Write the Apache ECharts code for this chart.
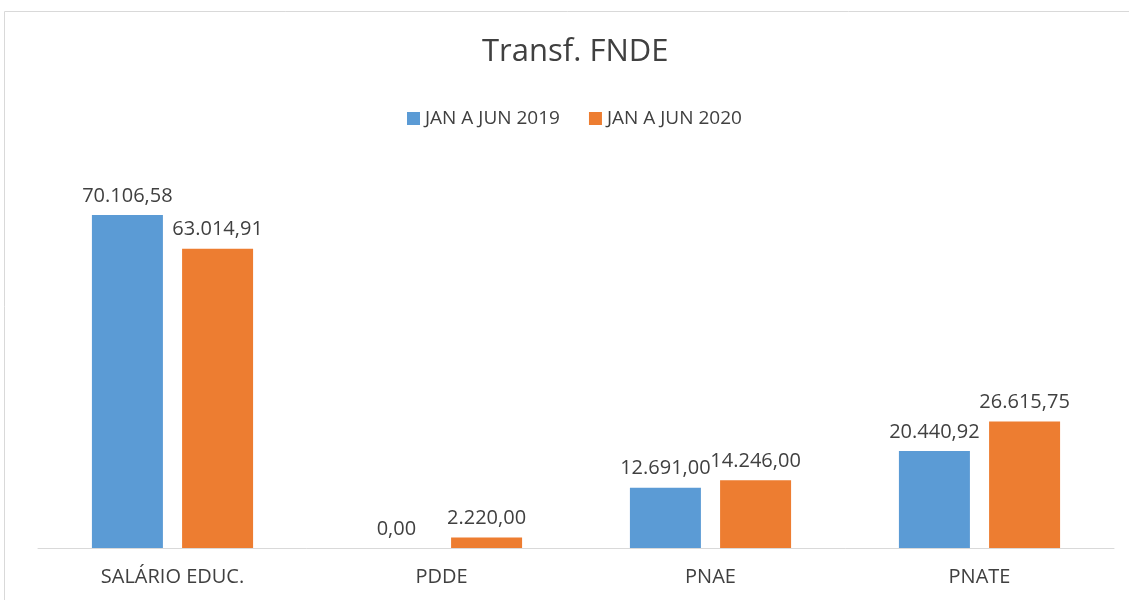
<!DOCTYPE html>
<html>
<head>
<meta charset="utf-8">
<script src="https://cdn.jsdelivr.net/npm/echarts@6/dist/echarts.min.js"></script>
<style>
  html, body { margin: 0; padding: 0; background: #fff; }
  #chart { width: 1129px; height: 600px; }
</style>
</head>
<body>
<div id="chart"></div>
<script>
var categories = ['SALÁRIO EDUC.', 'PDDE', 'PNAE', 'PNATE'];
var seriesNames = ['JAN A JUN 2019', 'JAN A JUN 2020'];
var values2019 = [70106.58, 0, 12691.00, 20440.92];
var values2020 = [63014.91, 2220.00, 14246.00, 26615.75];

function fmtBR(v) {
    var parts = v.toFixed(2).split('.');
    parts[0] = parts[0].replace(/\B(?=(\d{3})+(?!\d))/g, '.');
    return parts[0] + ',' + parts[1];
}

var myChart = echarts.init(document.getElementById('chart'));
var textColor = '#404040';
var font = 'Open Sans';

var labelOpt = {
    show: true,
    position: 'top',
    distance: 9,
    color: textColor,
    fontFamily: font,
    fontSize: 20,
    formatter: function (p) { return fmtBR(p.value); }
};

var option = {
    animation: false,
    textStyle: { fontFamily: font },
    // chart area border
    graphic: [{
        type: 'rect',
        shape: { x: 4.5, y: 11.5, width: 1200, height: 700 },
        style: { fill: 'none', stroke: '#d9d9d9', lineWidth: 1 },
        silent: true
    }],
    title: {
        text: 'Transf. FNDE',
        left: 482,
        top: 37,
        padding: 0,
        textStyle: { color: textColor, fontFamily: font, fontSize: 31, fontWeight: 'normal' }
    },
    legend: {
        data: seriesNames,
        top: 104,
        left: 402,
        itemWidth: 13,
        itemHeight: 13,
        itemGap: 29,
        icon: 'rect',
        textStyle: { color: textColor, fontFamily: font, fontSize: 19 }
    },
    grid: { left: 38, right: 15, top: 168, bottom: 52 },
    xAxis: {
        type: 'category',
        data: categories,
        axisLine: { lineStyle: { color: '#d9d9d9', width: 1 } },
        axisTick: { show: false },
        axisLabel: { color: textColor, fontFamily: font, fontSize: 20, margin: 19 }
    },
    yAxis: {
        type: 'value',
        min: 0,
        max: 80000,
        show: false,
        splitLine: { show: false }
    },
    series: [
        {
            name: seriesNames[0],
            type: 'bar',
            data: values2019,
            barWidth: 71,
            barGap: '27%',
            itemStyle: { color: '#5b9bd5' },
            label: labelOpt
        },
        {
            name: seriesNames[1],
            type: 'bar',
            data: values2020,
            barWidth: 71,
            barGap: '27%',
            itemStyle: { color: '#ed7d31' },
            label: labelOpt
        }
    ]
};
myChart.setOption(option);
</script>
</body>
</html>
